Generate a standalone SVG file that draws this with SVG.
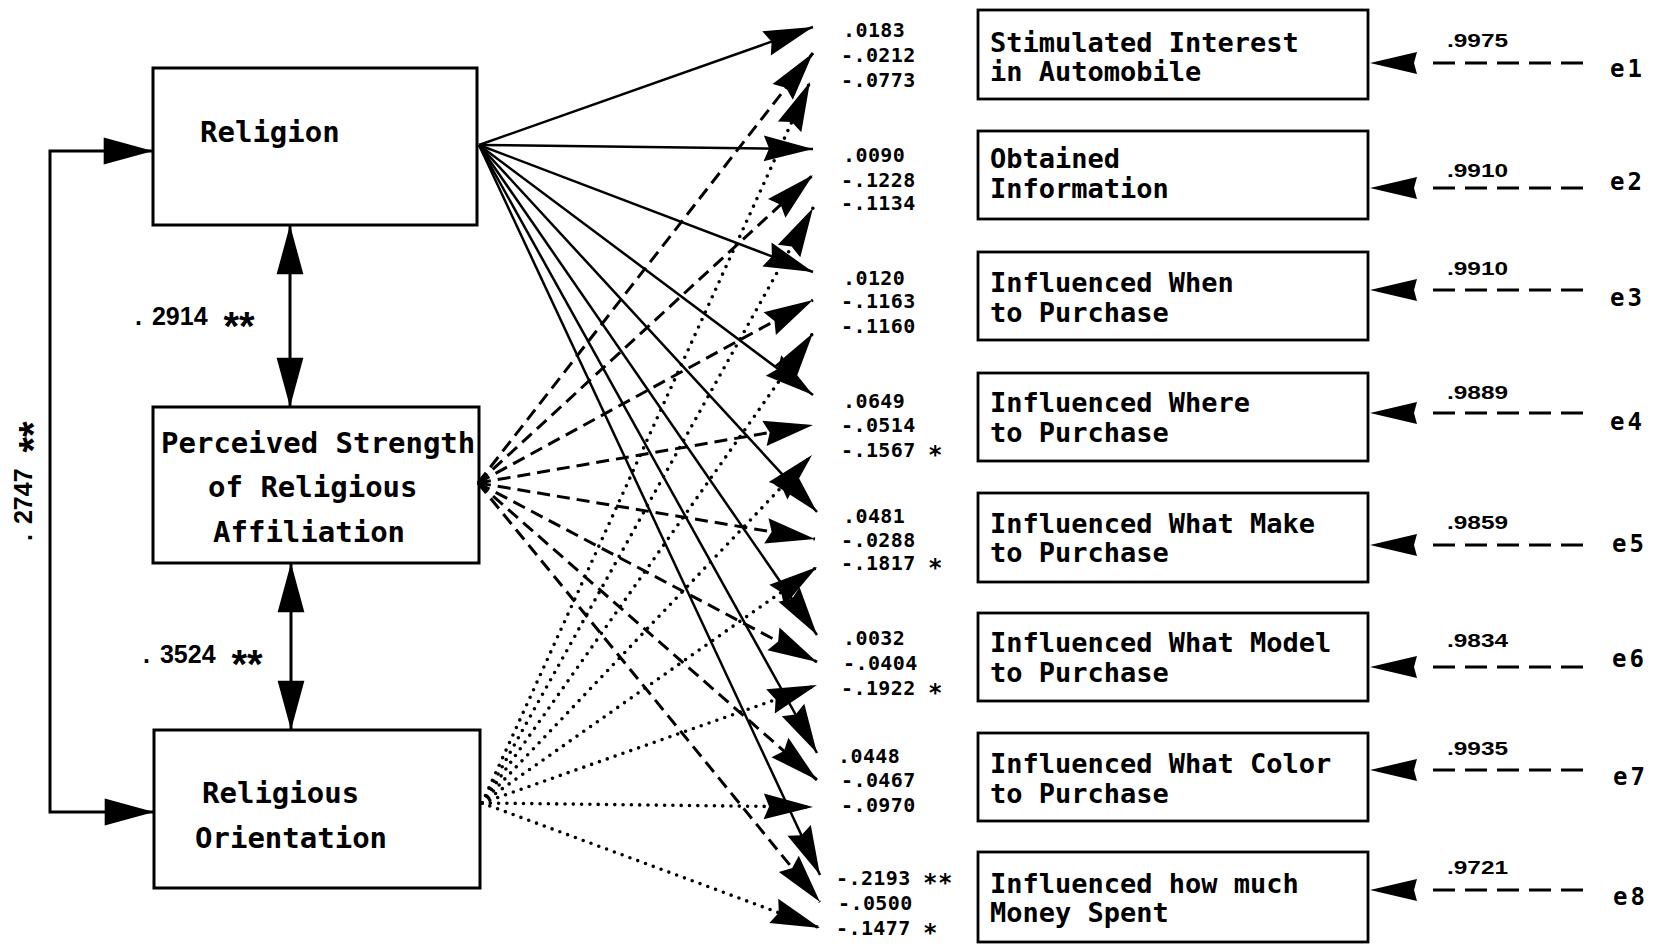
<svg xmlns="http://www.w3.org/2000/svg" width="1663" height="946" viewBox="0 0 1663 946">
<style>
  .box{fill:#fff;stroke:#000;stroke-width:3}
  .rbox{fill:#fff;stroke:#000;stroke-width:2.8}
  .big{font-family:"DejaVu Sans Mono","Liberation Mono",monospace;font-weight:bold;font-size:29px;fill:#000}
  .out{font-family:"DejaVu Sans Mono","Liberation Mono",monospace;font-weight:bold;font-size:27px;fill:#000}
  .coef{font-family:"DejaVu Sans Mono","Liberation Mono",monospace;font-weight:bold;font-size:20px;letter-spacing:0.4px;fill:#000}
  .sast{font-size:24px}
  .corr{font-family:"Liberation Sans",Arial,sans-serif;font-weight:bold;font-size:25px;fill:#000}
  .ast{font-size:40px}
  .err{font-family:"Liberation Sans",Arial,sans-serif;font-weight:bold;font-size:18px;fill:#000}
  .elab{font-family:"DejaVu Sans Mono","Liberation Mono",monospace;font-weight:bold;font-size:24px;letter-spacing:3px;fill:#000}
  .path{stroke:#000;fill:none;marker-end:url(#ah)}
  .solid{stroke-width:2.5}
  .dash{stroke-width:3;stroke-dasharray:13 7}
  .dot{stroke-width:3.6;stroke-dasharray:0 8.3;stroke-linecap:round}
  .corrline{stroke:#000;stroke-width:3;fill:none;marker-start:url(#tri);marker-end:url(#tri)}
  .eline{stroke:#000;stroke-width:2.8;stroke-dasharray:22 10;fill:none}
</style>
<defs>
  <marker id="ah" markerUnits="userSpaceOnUse" markerWidth="60" markerHeight="30" viewBox="-48 -14 50 28" refX="0" refY="0" orient="auto" overflow="visible">
    <path d="M0,0 L-46,-12 L-41,0 L-46,12 Z" fill="#000"/>
  </marker>
  <marker id="tri" markerUnits="userSpaceOnUse" markerWidth="60" markerHeight="30" viewBox="-48 -14 50 28" refX="0" refY="0" orient="auto-start-reverse" overflow="visible">
    <path d="M0,0 L-46,-12.5 L-46,12.5 Z" fill="#000"/>
  </marker>
  <path id="eh" d="M0,0 L47,-11 L44,0 L47,11 Z" fill="#000"/>
</defs>
<rect width="1663" height="946" fill="#fff"/>

<!-- exogenous variables -->
<g id="religion">
  <rect class="box" x="153" y="68" width="324" height="157"/>
  <text class="big" x="200" y="142">Religion</text>
</g>
<g id="strength">
  <rect class="box" x="153" y="407" width="326" height="156"/>
  <text class="big" x="161" y="453">Perceived Strength</text>
  <text class="big" x="208" y="497">of Religious</text>
  <text class="big" x="213" y="542">Affiliation</text>
</g>
<g id="orientation">
  <rect class="box" x="154" y="730" width="326" height="158"/>
  <text class="big" x="202" y="803">Religious</text>
  <text class="big" x="195" y="848">Orientation</text>
</g>

<!-- outcome variables -->
<g id="out1">
  <rect class="rbox" x="978" y="10" width="390" height="89"/>
  <text class="out" x="990" y="52">Stimulated Interest</text>
  <text class="out" x="990" y="81">in Automobile</text>
</g>
<g id="out2">
  <rect class="rbox" x="978" y="131" width="390" height="88"/>
  <text class="out" x="990" y="168">Obtained</text>
  <text class="out" x="990" y="198">Information</text>
</g>
<g id="out3">
  <rect class="rbox" x="978" y="252" width="390" height="88"/>
  <text class="out" x="990" y="292">Influenced When</text>
  <text class="out" x="990" y="322">to Purchase</text>
</g>
<g id="out4">
  <rect class="rbox" x="978" y="373" width="390" height="88"/>
  <text class="out" x="990" y="412">Influenced Where</text>
  <text class="out" x="990" y="442">to Purchase</text>
</g>
<g id="out5">
  <rect class="rbox" x="978" y="493" width="390" height="89"/>
  <text class="out" x="990" y="533">Influenced What Make</text>
  <text class="out" x="990" y="562">to Purchase</text>
</g>
<g id="out6">
  <rect class="rbox" x="978" y="613" width="390" height="88"/>
  <text class="out" x="990" y="652">Influenced What Model</text>
  <text class="out" x="990" y="682">to Purchase</text>
</g>
<g id="out7">
  <rect class="rbox" x="978" y="733" width="390" height="88"/>
  <text class="out" x="990" y="773">Influenced What Color</text>
  <text class="out" x="990" y="803">to Purchase</text>
</g>
<g id="out8">
  <rect class="rbox" x="978" y="852" width="390" height="90"/>
  <text class="out" x="990" y="893">Influenced how much</text>
  <text class="out" x="990" y="922">Money Spent</text>
</g>

<!-- error terms -->
<g id="errors">
  <text class="elab" x="1610" y="77">e1</text>
  <text class="elab" x="1610" y="190">e2</text>
  <text class="elab" x="1610" y="306">e3</text>
  <text class="elab" x="1610" y="430">e4</text>
  <text class="elab" x="1612" y="552">e5</text>
  <text class="elab" x="1612" y="667">e6</text>
  <text class="elab" x="1613" y="785">e7</text>
  <text class="elab" x="1613" y="905">e8</text>
</g>

<g id="connectors">
  <!-- correlations among exogenous variables -->
  <line class="corrline" x1="290" y1="225" x2="290" y2="407"/>
  <line class="corrline" x1="291" y1="563" x2="291" y2="730"/>
  <path class="corrline" d="M153,151 H50 V812 H154"/>
  <text class="corr" x="135" y="325">.<tspan dx="10">2914</tspan> <tspan class="ast" dx="9" dy="15">**</tspan></text>
  <text class="corr" x="143" y="663">.<tspan dx="10">3524</tspan> <tspan class="ast" dx="9" dy="15">**</tspan></text>
  <text class="corr" x="32" y="541" transform="rotate(-90 32 541)">.<tspan dx="10">2747</tspan> <tspan class="ast" dx="9" dy="15">**</tspan></text>

  <!-- Religion paths -->
  <g class="path solid">
    <line x1="479" y1="145" x2="813" y2="27"/>
    <line x1="479" y1="145" x2="813" y2="149"/>
    <line x1="479" y1="145" x2="813" y2="272"/>
    <line x1="479" y1="145" x2="813" y2="395"/>
    <line x1="479" y1="145" x2="817" y2="512"/>
    <line x1="479" y1="145" x2="817" y2="635"/>
    <line x1="479" y1="145" x2="817" y2="753"/>
    <line x1="479" y1="145" x2="820" y2="875"/>
  </g>
  <!-- Perceived strength paths -->
  <g class="path dash">
    <line x1="478" y1="483" x2="813" y2="53"/>
    <line x1="478" y1="483" x2="813" y2="175"/>
    <line x1="478" y1="483" x2="813" y2="300"/>
    <line x1="478" y1="483" x2="813" y2="425"/>
    <line x1="478" y1="483" x2="815" y2="539"/>
    <line x1="478" y1="483" x2="817" y2="662"/>
    <line x1="478" y1="483" x2="817" y2="780"/>
    <line x1="478" y1="483" x2="820" y2="902"/>
  </g>
  <!-- Religious orientation paths -->
  <g class="path dot">
    <line x1="482" y1="803" x2="810" y2="82"/>
    <line x1="482" y1="803" x2="813" y2="208"/>
    <line x1="482" y1="803" x2="813" y2="333"/>
    <line x1="482" y1="803" x2="812" y2="455"/>
    <line x1="482" y1="803" x2="817" y2="567"/>
    <line x1="482" y1="803" x2="817" y2="685"/>
    <line x1="482" y1="803" x2="813" y2="807"/>
    <line x1="482" y1="803" x2="820" y2="928"/>
  </g>

  <!-- path coefficients -->
  <g class="coef">
    <text x="843" y="37">.0183</text>
    <text x="841" y="62">-.0212</text>
    <text x="841" y="87">-.0773</text>
    <text x="843" y="162">.0090</text>
    <text x="841" y="187">-.1228</text>
    <text x="841" y="210">-.1134</text>
    <text x="843" y="285">.0120</text>
    <text x="841" y="308">-.1163</text>
    <text x="841" y="333">-.1160</text>
    <text x="843" y="408">.0649</text>
    <text x="841" y="432">-.0514</text>
    <text x="841" y="457">-.1567 <tspan class="sast" dy="6">*</tspan></text>
    <text x="843" y="523">.0481</text>
    <text x="841" y="547">-.0288</text>
    <text x="841" y="570">-.1817 <tspan class="sast" dy="6">*</tspan></text>
    <text x="843" y="645">.0032</text>
    <text x="843" y="670">-.0404</text>
    <text x="841" y="695">-.1922 <tspan class="sast" dy="6">*</tspan></text>
    <text x="838" y="763">.0448</text>
    <text x="841" y="787">-.0467</text>
    <text x="841" y="812">-.0970</text>
    <text x="836" y="885">-.2193 <tspan class="sast" dy="6">**</tspan></text>
    <text x="838" y="910">-.0500</text>
    <text x="836" y="935">-.1477 <tspan class="sast" dy="6">*</tspan></text>
  </g>

  <!-- residual paths -->
  <g>
    <path class="eline" d="M1583,63 H1433"/><use href="#eh" x="1370" y="63"/>
    <path class="eline" d="M1583,188 H1433"/><use href="#eh" x="1370" y="188"/>
    <path class="eline" d="M1583,290 H1433"/><use href="#eh" x="1370" y="290"/>
    <path class="eline" d="M1583,413 H1433"/><use href="#eh" x="1370" y="413"/>
    <path class="eline" d="M1583,545 H1433"/><use href="#eh" x="1370" y="545"/>
    <path class="eline" d="M1583,667 H1433"/><use href="#eh" x="1370" y="667"/>
    <path class="eline" d="M1583,770 H1433"/><use href="#eh" x="1370" y="770"/>
    <path class="eline" d="M1583,890 H1433"/><use href="#eh" x="1370" y="890"/>
  </g>
  <g class="err">
    <text x="1447" y="47" textLength="61" lengthAdjust="spacingAndGlyphs">.9975</text>
    <text x="1447" y="177" textLength="61" lengthAdjust="spacingAndGlyphs">.9910</text>
    <text x="1447" y="275" textLength="61" lengthAdjust="spacingAndGlyphs">.9910</text>
    <text x="1447" y="399" textLength="61" lengthAdjust="spacingAndGlyphs">.9889</text>
    <text x="1447" y="529" textLength="61" lengthAdjust="spacingAndGlyphs">.9859</text>
    <text x="1447" y="647" textLength="61" lengthAdjust="spacingAndGlyphs">.9834</text>
    <text x="1447" y="755" textLength="61" lengthAdjust="spacingAndGlyphs">.9935</text>
    <text x="1447" y="874" textLength="61" lengthAdjust="spacingAndGlyphs">.9721</text>
  </g>
</g>
</svg>
